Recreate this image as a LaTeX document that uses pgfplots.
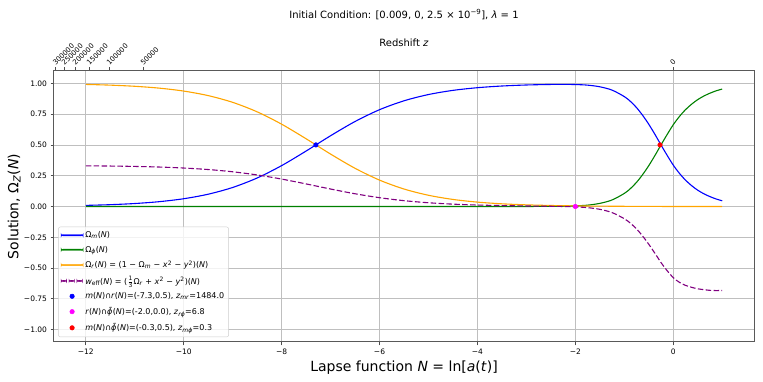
\documentclass[border=0pt]{standalone}
\usepackage{fontspec}
\setmainfont{DejaVu Sans}
\usepackage{amsmath}
\usepackage{pgfplots}
\pgfplotsset{compat=1.18}
\usepackage{pgfplotstable}

\definecolor{colm}{RGB}{0,0,255}
\definecolor{colphi}{RGB}{0,128,0}
\definecolor{colr}{RGB}{255,165,0}
\definecolor{colw}{RGB}{128,0,128}
\definecolor{colmag}{RGB}{255,0,255}
\definecolor{colred}{RGB}{255,0,0}

% N, Omega_m, Omega_phi, Omega_r, w_eff
\pgfplotstableread{
N      Om     Ophi   Or     w
-12    0.0090 0.0000 0.9910 0.3303
-11.5  0.0148 0.0000 0.9852 0.3284
-11    0.0241 0.0000 0.9759 0.3253
-10.5  0.0392 0.0000 0.9608 0.3203
-10    0.0630 0.0000 0.9370 0.3123
-9.5   0.0998 0.0000 0.9002 0.3001
-9     0.1545 0.0000 0.8455 0.2818
-8.5   0.2315 0.0000 0.7685 0.2562
-8     0.3318 0.0000 0.6682 0.2227
-7.5   0.4502 0.0000 0.5498 0.1833
-7     0.5744 0.0000 0.4256 0.1419
-6.5   0.6900 0.0000 0.3100 0.1033
-6     0.7858 0.0000 0.2142 0.0714
-5.5   0.8581 0.0000 0.1419 0.0473
-5     0.9089 0.0000 0.0911 0.0304
-4.5   0.9427 0.0000 0.0573 0.0191
-4     0.9644 0.0000 0.0356 0.0119
-3.5   0.9781 0.0001 0.0218 0.0073
-3     0.9864 0.0002 0.0134 0.0043
-2.5   0.9908 0.0010 0.0082 0.0017
-2.25  0.9914 0.0022 0.0064 0.0000
-2     0.9901 0.0049 0.0049 -0.0032
-1.75  0.9852 0.0109 0.0038 -0.0092
-1.5   0.9718 0.0253 0.0029 -0.0230
-1.25  0.9448 0.0530 0.0022 -0.0494
-1     0.8923 0.1060 0.0016 -0.0991
-0.875 0.8533 0.1453 0.0014 -0.1354
-0.75  0.8029 0.1960 0.0011 -0.1819
-0.625 0.7401 0.2590 0.0009 -0.2401
-0.5   0.6677 0.3316 0.0007 -0.3065
-0.375 0.5863 0.4132 0.0006 -0.3791
-0.25  0.4998 0.4998 0.0004 -0.4547
-0.125 0.4157 0.5840 0.0003 -0.5208
0      0.3362 0.6636 0.0002 -0.5773
0.125  0.2699 0.7300 0.0002 -0.6154
0.25   0.2142 0.7857 0.0001 -0.6403
0.375  0.1694 0.8305 0.0001 -0.6561
0.5    0.1324 0.8676 0.0000 -0.6681
0.625  0.1034 0.8966 0.0000 -0.6751
0.75   0.0802 0.9198 0.0000 -0.6807
0.875  0.0612 0.9388 0.0000 -0.6825
1      0.0465 0.9535 0.0000 -0.6818
}\sol

% legend images: filled strips for lines, filled discs for points
\pgfplotsset{
  lineimg/.style={legend image code/.code={%
    \fill[#1, fill opacity=1] (0pt,-0.7pt) rectangle (22pt,0.7pt);}},
  dashimg/.style={legend image code/.code={%
    \fill[#1, fill opacity=1] (0pt,-0.7pt) rectangle (5.5pt,0.7pt)
      (7.9pt,-0.7pt) rectangle (13.4pt,0.7pt)
      (15.8pt,-0.7pt) rectangle (21.3pt,0.7pt);}},
  dotimg/.style={legend image code/.code={%
    \fill[#1, fill opacity=1] (11pt,0pt) circle[radius=2.3pt];}},
}

\begin{document}
\begin{tikzpicture}
\path[use as bounding box] (-54pt,-40pt) rectangle (709pt,342pt);
\begin{axis}[
  scale only axis, width=700pt, height=271pt,
  xmin=-12.65, xmax=1.65, ymin=-1.1, ymax=1.1,
  xtick={-12,-10,-8,-6,-4,-2,0},
  xticklabels={−12,−10,−8,−6,−4,−2,0},
  ytick={-1,-0.75,-0.5,-0.25,0,0.25,0.5,0.75,1},
  yticklabels={−1.00,−0.75,−0.50,−0.25,0.00,0.25,0.50,0.75,1.00},
  xtick pos=bottom, ytick pos=left, tick align=outside,
  major tick length=3.5pt,
  tick style={black!70, line width=0.8pt},
  axis line style={black!65, line width=1pt},
  grid=major, grid style={black!25, line width=0.8pt},
  ticklabel style={font=\fontsize{7.5}{9}\selectfont},
  xlabel={Lapse function \textit{N} = ln[\textit{a}(\textit{t})]},
  ylabel={Solution, Ω\textsubscript{\textit{Z}}(\textit{N})},
  xlabel style={at={(axis description cs:0.5,-0.096)}, anchor=center, font=\fontsize{14}{16}\selectfont},
  ylabel style={at={(axis description cs:-0.057,0.5)}, anchor=center, font=\fontsize{14}{16}\selectfont},
  legend cell align=left,
  legend style={at={(0.006,0.018)}, anchor=south west, draw=black!20,
    fill=white, fill opacity=0.8, text opacity=1, rounded corners=2pt,
    font=\fontsize{8}{9.5}\selectfont, row sep=3pt, inner sep=2.5pt},
]
% intersection points (drawn under the curves)
\addplot[only marks, mark=*, mark size=2.3pt, draw=colm, fill=colm, forget plot] coordinates {(-7.3,0.5)};
\addplot[only marks, mark=*, mark size=2.3pt, draw=colmag, fill=colmag, forget plot] coordinates {(-2.0,0.0)};
\addplot[only marks, mark=*, mark size=2.3pt, draw=colred, fill=colred, forget plot] coordinates {(-0.27,0.5)};

\addplot[draw=colm, line width=1.1pt, smooth, forget plot] table[x=N, y=Om] {\sol};
\addplot[draw=colphi, line width=1.1pt, smooth, forget plot] table[x=N, y=Ophi] {\sol};
\addplot[draw=colr, line width=1.1pt, smooth, forget plot] table[x=N, y=Or] {\sol};
\addplot[draw=colw, line width=1.1pt, smooth, dash pattern=on 5.5pt off 2.4pt, forget plot] table[x=N, y=w] {\sol};

\addlegendimage{lineimg=colm}
\addlegendentry{Ω\textsubscript{\textit{m}}(\textit{N})}
\addlegendimage{lineimg=colphi}
\addlegendentry{Ω\textsubscript{\textit{ϕ}}(\textit{N})}
\addlegendimage{lineimg=colr}
\addlegendentry{Ω\textsubscript{\textit{r}}(\textit{N}) = (1 − Ω\textsubscript{\textit{m}} − \textit{x}\textsuperscript{2} − \textit{y}\textsuperscript{2})(\textit{N})}
\addlegendimage{dashimg=colw}
\addlegendentry{\textit{w}\textsubscript{eff}(\textit{N}) = ($\frac{\text{1}}{\text{3}}$Ω\textsubscript{\textit{r}} + \textit{x}\textsuperscript{2} − \textit{y}\textsuperscript{2})(\textit{N})}
\addlegendimage{dotimg=colm}
\addlegendentry{\textit{m}(\textit{N})∩\textit{r}(\textit{N})=(-7.3,0.5), \textit{z}\textsubscript{\textit{mr}}=1484.0}
\addlegendimage{dotimg=colmag}
\addlegendentry{\textit{r}(\textit{N})∩\textit{ϕ̃}(\textit{N})=(-2.0,0.0), \textit{z}\textsubscript{\textit{rϕ}}=6.8}
\addlegendimage{dotimg=colred}
\addlegendentry{\textit{m}(\textit{N})∩\textit{ϕ̃}(\textit{N})=(-0.3,0.5), \textit{z}\textsubscript{\textit{mϕ}}=0.3}
\end{axis}

% redshift axis on top: N = -ln(1+z)
\begin{axis}[
  scale only axis, width=700pt, height=271pt,
  xmin=-12.65, xmax=1.65, ymin=-1.1, ymax=1.1,
  axis x line*=top, axis y line=none,
  xtick={-12.6115,-12.4292,-12.2061,-11.9184,-11.5129,-10.8198,0},
  xticklabels={300000,250000,200000,150000,100000,50000,0},
  tick align=outside, major tick length=3.5pt,
  tick style={black!70, line width=0.8pt},
  axis line style={black!65, line width=1pt},
  xticklabel style={rotate=45, anchor=south west, inner sep=1pt,
    font=\fontsize{7}{8}\selectfont},
  xlabel={Redshift \textit{z}},
  xlabel style={at={(axis description cs:0.5,1.103)}, anchor=center, font=\fontsize{10}{12}\selectfont},
  title={Initial Condition: [0.009, 0, 2.5 × 10\textsuperscript{−9}], \textit{λ} = 1},
  title style={at={(axis description cs:0.5,1.185)}, anchor=center, font=\fontsize{10}{12}\selectfont},
]
\end{axis}
\end{tikzpicture}
\end{document}
